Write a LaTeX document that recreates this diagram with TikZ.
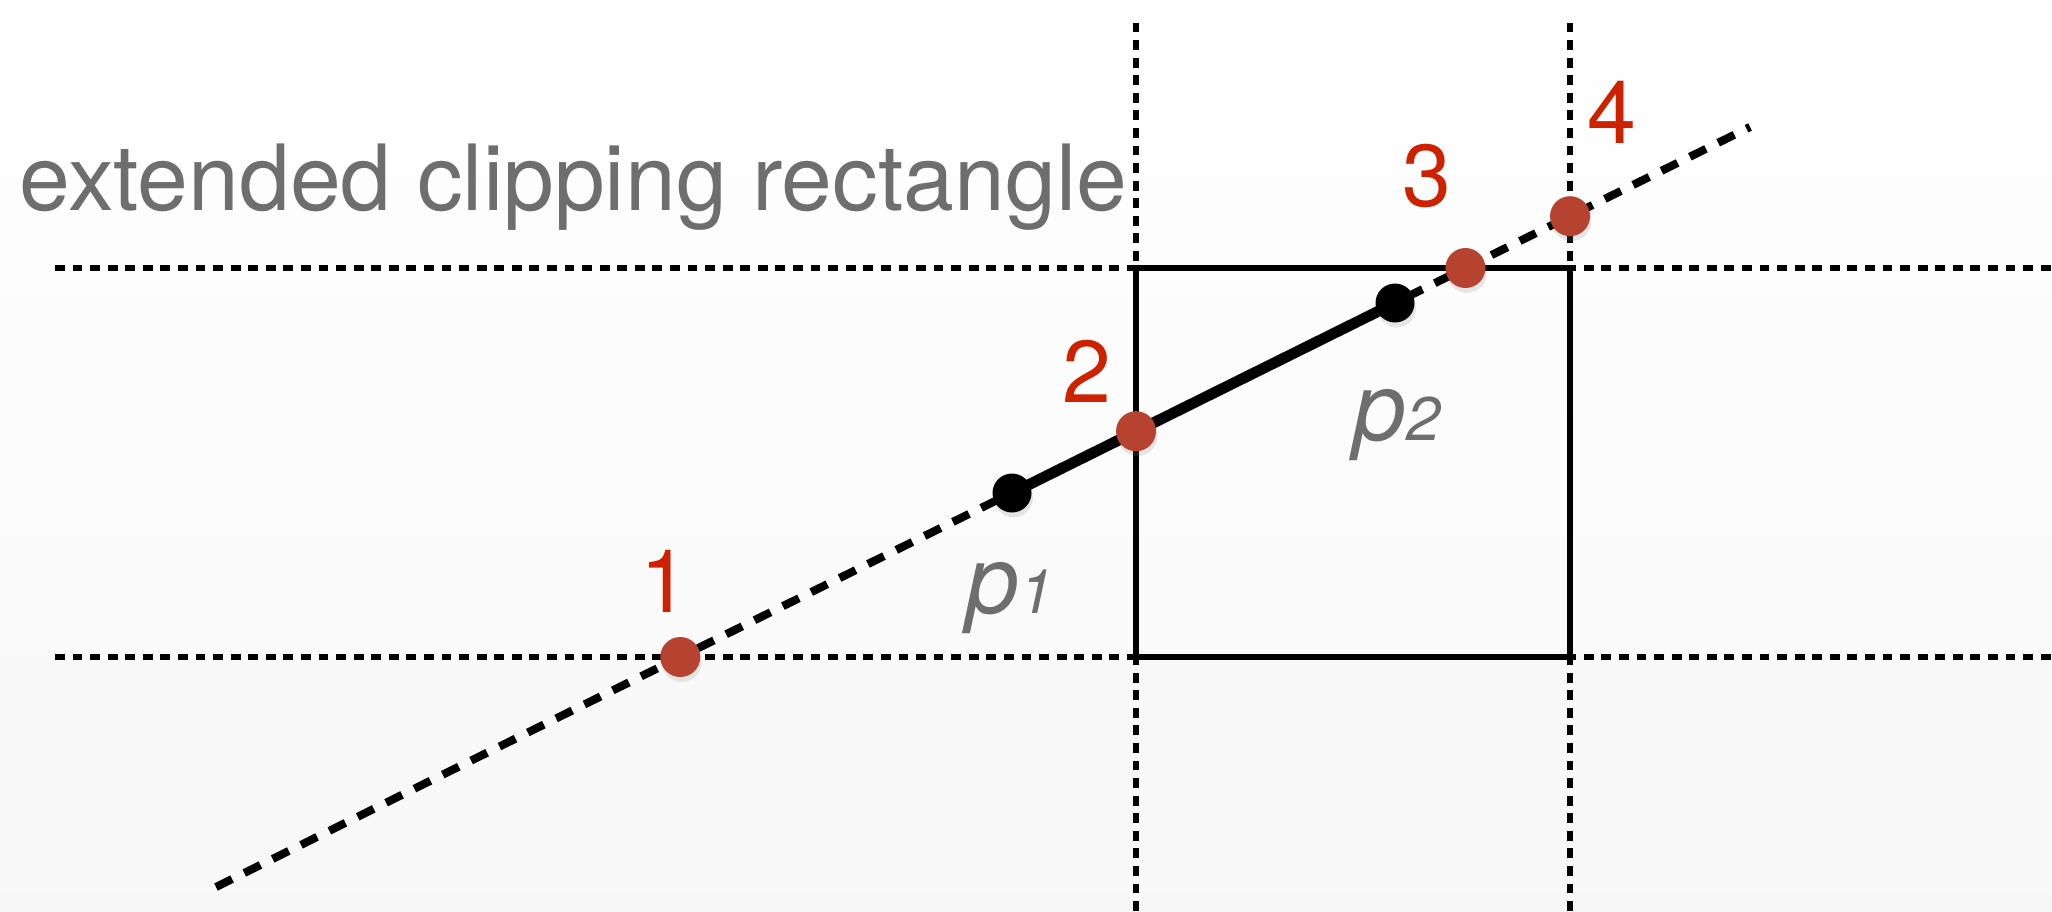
\documentclass[tikz,border=0pt]{standalone}
\usepackage{fontspec}
\setmainfont{TeX Gyre Heros}
\usetikzlibrary{shadows}
\definecolor{ptred}{HTML}{B5432F}
\definecolor{numred}{HTML}{CC2200}
\definecolor{labgray}{HTML}{6E6E6E}

\begin{document}
\begin{tikzpicture}[line width=0.8pt,
  gridln/.style={line width=1.5pt,dash pattern=on 2.8pt off 2.2pt},
  cliprect/.style={line width=1.6pt},
  extln/.style={line width=2.3pt,dash pattern=on 5.1pt off 3.9pt},
  seg/.style={line width=3.1pt},
  hit/.style={circle,fill=ptred,inner sep=0pt,minimum size=0.40cm,
    drop shadow={opacity=0.18,shadow xshift=0.4pt,shadow yshift=-1.4pt}},
  endpt/.style={circle,fill=black,inner sep=0pt,minimum size=0.39cm,
    drop shadow={opacity=0.18,shadow xshift=0.4pt,shadow yshift=-1.4pt}},
  num/.style={anchor=base,text=numred,inner sep=0pt,font=\fontsize{25}{30}\selectfont},
  plab/.style={anchor=base,text=labgray,inner sep=0pt,font=\fontsize{27}{30}\selectfont\itshape}]
\useasboundingbox (0,0) rectangle (20.52,9.11);
\shade[top color=white,bottom color=black!3] (0,0) rectangle (20.52,9.11);
% ================ extended clipping rectangle ================
\coordinate (hT1) at (0.55,6.43);  \coordinate (hT2) at (20.52,6.43);
\coordinate (hB1) at (0.55,2.54);  \coordinate (hB2) at (20.52,2.54);
\coordinate (vL1) at (11.36,0);    \coordinate (vL2) at (11.36,8.96);
\coordinate (vR1) at (15.70,0);    \coordinate (vR2) at (15.70,8.96);
\draw[gridln] (hT1) -- (hT2);
\draw[gridln] (hB1) -- (hB2);
\draw[gridln] (vL1) -- (vL2);
\draw[gridln] (vR1) -- (vR2);
% clipping rectangle
\draw[cliprect] (11.36,2.54) rectangle (15.70,6.43);
\node[anchor=base west,inner sep=0pt,text=labgray,font=\fontsize{26}{30}\selectfont]
  (title) at (0.18,7.01) {extended clipping rectangle};
% ================ line p1 p2 ================
\coordinate (lnA) at (2.16,0.24);
\coordinate (lnB) at (17.50,7.84);
\coordinate (p1) at (10.12,4.18);
\coordinate (p2) at (13.95,6.08);
\draw[extln] (lnA) -- (lnB);
\draw[seg] (p1) -- (p2);
% intersections with the extended edges
\coordinate (c1) at (intersection of lnA--lnB and hB1--hB2);
\coordinate (c2) at (intersection of lnA--lnB and vL1--vL2);
\coordinate (c3) at (intersection of lnA--lnB and hT1--hT2);
\coordinate (c4) at (intersection of lnA--lnB and vR1--vR2);
\node[endpt] (p1dot) at (p1) {};
\node[endpt] (p2dot) at (p2) {};
\node[hit] (c1dot) at (c1) {};
\node[hit] (c2dot) at (c2) {};
\node[hit] (c3dot) at (c3) {};
\node[hit] (c4dot) at (c4) {};
% labels
\node[num] (n1) at (6.65,2.99) {1};
\node[num] (n2) at (10.87,5.09) {2};
\node[num] (n3) at (14.27,7.05) {3};
\node[num] (n4) at (16.12,7.68) {4};
\node[plab] (p1lab) at (10.10,2.98) {p{\fontsize{17.5}{20}\selectfont 1}};
\node[plab] (p2lab) at (13.97,4.71) {p{\fontsize{17.5}{20}\selectfont 2}};
\end{tikzpicture}
\end{document}
